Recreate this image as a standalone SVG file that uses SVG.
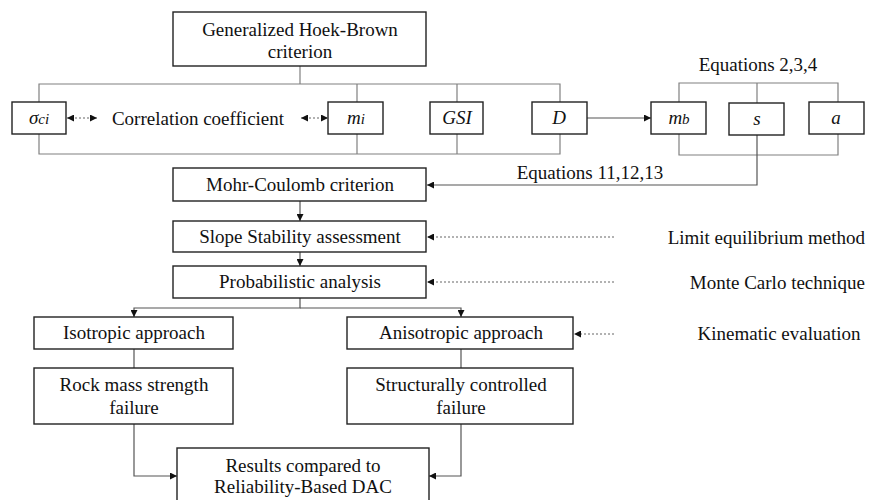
<svg xmlns="http://www.w3.org/2000/svg" width="869" height="500" viewBox="0 0 869 500">
<defs>
<marker id="ah" viewBox="0 0 10 10" refX="10" refY="5" markerWidth="7" markerHeight="7" markerUnits="userSpaceOnUse" orient="auto-start-reverse">
<path d="M0,0 L10,5 L0,10 z" fill="#111"/>
</marker>
<style>
.box{fill:#fff;stroke:#222;stroke-width:1.4}
.t{font-family:"Liberation Serif","Times New Roman",serif;font-size:19px;fill:#111;text-anchor:middle}
.i{font-style:italic}
.br{fill:none;stroke:#808080;stroke-width:1.2}
.c{fill:none;stroke:#555;stroke-width:1.2}
.d{fill:none;stroke:#666;stroke-width:1.1;stroke-dasharray:2,2}
</style>
</defs>
<rect width="869" height="500" fill="#fff"/>

<g id="connectors">
<path class="br" d="M300,66 V84 M39,102 V84 H560 V102 M357,84 V102 M457,84 V102"/>
<path class="br" d="M39,134 V154 H560 V134 M357,134 V154 M457,134 V154"/>
<path class="br" d="M679,102 V83 H838 V102 M757,83 V103"/>
<path class="br" d="M679,134 V155 H838 V134"/>
<path class="c" d="M757,135 V185 H427" marker-end="url(#ah)"/>
<path class="c" d="M587,118 H651" marker-end="url(#ah)"/>
<path class="c" d="M300,201 V221" marker-end="url(#ah)"/>
<path class="c" d="M300,252 V266" marker-end="url(#ah)"/>
<path class="c" d="M300,298 V308 H134 V317" marker-end="url(#ah)"/>
<path class="c" d="M300,308 H461 V317" marker-end="url(#ah)"/>
<path class="c" d="M134,349 V368 M461,349 V368"/>
<path class="c" d="M134,424 V476 H177" marker-end="url(#ah)"/>
<path class="c" d="M461,424 V476 H429" marker-end="url(#ah)"/>
<path class="d" d="M67,118 H97" marker-start="url(#ah)" marker-end="url(#ah)"/>
<path class="d" d="M301,118 H328" marker-start="url(#ah)" marker-end="url(#ah)"/>
<path class="d" d="M614,237 H427" marker-end="url(#ah)"/>
<path class="d" d="M614,282 H427" marker-end="url(#ah)"/>
<path class="d" d="M614,334 H574" marker-end="url(#ah)"/>
</g>

<g id="hoek-brown"><rect class="box" x="173" y="12" width="253" height="54"/><text class="t" x="300" y="36">Generalized Hoek-Brown</text><text class="t" x="300" y="58">criterion</text></g>
<g id="sigma-ci"><rect class="box" x="12" y="102" width="54" height="32"/><text class="t i" x="39" y="124">σ<tspan font-size="15">ci</tspan></text></g>
<g id="correlation"><text class="t" x="198" y="125">Correlation coefficient</text></g>
<g id="mi"><rect class="box" x="328" y="102" width="55" height="32"/><text class="t i" x="356" y="124">m<tspan font-size="15">i</tspan></text></g>
<g id="gsi"><rect class="box" x="430" y="102" width="53" height="32"/><text class="t i" x="457" y="124">GSI</text></g>
<g id="d"><rect class="box" x="532" y="102" width="55" height="32"/><text class="t i" x="559" y="124">D</text></g>
<g id="mb"><rect class="box" x="651" y="102" width="55" height="32"/><text class="t i" x="679" y="124">m<tspan font-size="15">b</tspan></text></g>
<g id="s"><rect class="box" x="729" y="103" width="55" height="32"/><text class="t i" x="757" y="125">s</text></g>
<g id="a"><rect class="box" x="809" y="102" width="55" height="32"/><text class="t i" x="836" y="124">a</text></g>
<g id="eq234"><text class="t" x="758" y="71">Equations 2,3,4</text></g>
<g id="eq111213"><text class="t" x="590" y="179">Equations 11,12,13</text></g>
<g id="mohr"><rect class="box" x="173" y="168" width="253" height="33"/><text class="t" x="300" y="191">Mohr-Coulomb criterion</text></g>
<g id="slope"><rect class="box" x="173" y="221" width="253" height="31"/><text class="t" x="300" y="243">Slope Stability assessment</text></g>
<g id="prob"><rect class="box" x="173" y="266" width="253" height="32"/><text class="t" x="300" y="288">Probabilistic analysis</text></g>
<g id="iso"><rect class="box" x="34" y="317" width="199" height="32"/><text class="t" x="134" y="339">Isotropic approach</text></g>
<g id="aniso"><rect class="box" x="347" y="317" width="226" height="32"/><text class="t" x="461" y="339">Anisotropic approach</text></g>
<g id="rock"><rect class="box" x="34" y="368" width="199" height="56"/><text class="t" x="134" y="391">Rock mass strength</text><text class="t" x="134" y="414">failure</text></g>
<g id="struct"><rect class="box" x="347" y="368" width="226" height="56"/><text class="t" x="461" y="391">Structurally controlled</text><text class="t" x="461" y="414">failure</text></g>
<g id="results"><rect class="box" x="177" y="448" width="252" height="60"/><text class="t" x="303" y="472">Results compared to</text><text class="t" x="303" y="493">Reliability-Based DAC</text></g>
<g id="limit"><text class="t" x="865" y="244" text-anchor="end" style="text-anchor:end">Limit equilibrium method</text></g>
<g id="monte"><text class="t" x="865" y="289" style="text-anchor:end">Monte Carlo technique</text></g>
<g id="kinematic"><text class="t" x="779" y="340">Kinematic evaluation</text></g>
</svg>
